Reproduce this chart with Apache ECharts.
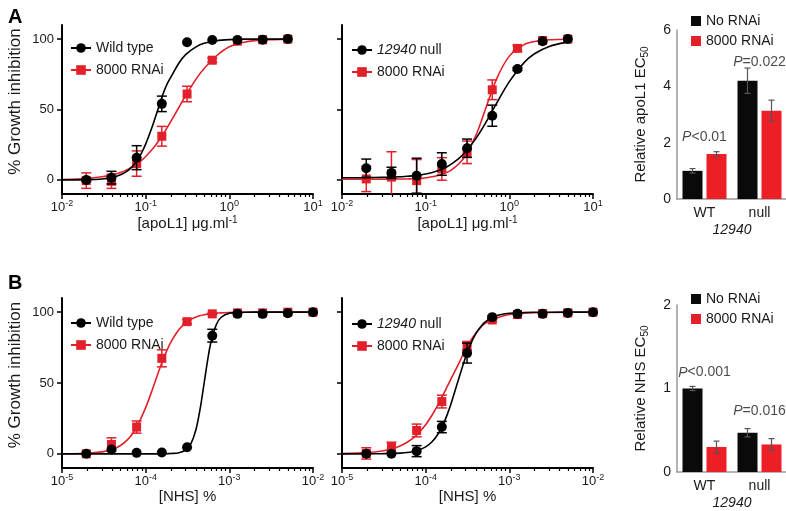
<!DOCTYPE html>
<html><head><meta charset="utf-8">
<script src="https://cdn.jsdelivr.net/npm/echarts@6/dist/echarts.min.js"></script>
<style>html,body{margin:0;padding:0;background:#fff}#c{width:786px;height:511px}</style>
</head><body><div id="c"></div>
<script>
// ---------------- DATA ----------------
const concA = [0.0195, 0.039, 0.078, 0.156, 0.3125, 0.625, 1.25, 2.5, 5];
const concB = [1.95e-5, 3.9e-5, 7.8e-5, 1.56e-4, 3.125e-4, 6.25e-4, 1.25e-3, 2.5e-3, 5e-3, 1e-2];

// Panel A, left (Wild type vs 8000 RNAi)
const aWtMean = [0, 1.6, 15.8, 54, 97.7, 99.3, 99.3, 99.6, 100];
const aWtErr = [1, 4.5, 8.5, 5.5, 0, 0, 0, 0, 0];
const aWtRnaiMean = [-0.5, -1, 11.6, 31, 61, 85, 98.5, 99.5, 100];
const aWtRnaiErr = [5.5, 5, 9, 7, 5.5, 1.5, 0, 0, 0];
// Panel A, middle (12940 null vs 8000 RNAi)
const aNullMean = [8.3, 5, 3, 11.3, 22.5, 45.6, 78.7, 98.5, 100];
const aNullErr = [6.5, 4, 12.4, 8, 6.5, 7.5, 1, 0, 0];
const aNullRnaiMean = [0.7, 2, -0.5, 7.8, 19.6, 64, 93.4, 99, 100];
const aNullRnaiErr = [9, 18, 15, 8, 8, 7, 2, 0, 0];

// fitted curves, panel A
const curveXA = [0.01, 0.02, 0.03, 0.04, 0.05, 0.06, 0.07, 0.08, 0.09, 0.1, 0.12, 0.14, 0.16, 0.18, 0.2, 0.25, 0.3, 0.4, 0.5, 0.7, 1, 1.5, 2, 3, 5];
const aWtFit = [0, 0.2, 0.7, 1.8, 3.6, 6.2, 9.8, 14.3, 19.6, 25.4, 37.9, 50, 60.5, 68, 73, 83, 89, 94.5, 97, 98.8, 99.6, 100, 100, 100, 100];
const aWtRnaiFit = [0.3, 1.0, 2.2, 3.6, 5.3, 7.3, 9.4, 11.7, 14.1, 16.6, 21.7, 26.9, 32, 36.9, 41.5, 51.6, 59.8, 71.6, 79.1, 88, 94.5, 97.8, 98.9, 99.6, 100];
const aNullFit = [1.5, 1.6, 1.8, 2.0, 2.2, 2.6, 2.9, 3.3, 3.7, 4.2, 5.3, 6.5, 7.9, 9.4, 11, 15.3, 20, 29.5, 38.7, 54.2, 69.8, 83.3, 89.6, 94.8, 98];
const aNullRnaiFit = [0.5, 0.5, 0.5, 0.6, 0.6, 0.7, 0.8, 0.9, 1.1, 1.5, 2.2, 3.1, 4.2, 5.4, 6.8, 11.5, 17.5, 31.8, 47.6, 71.4, 87.9, 96.1, 98.3, 99.5, 99.9];

// Panel B, left
const bWtMean = [0, 3, 0.7, 1, 4.7, 83.4, 98.8, 98.8, 99.3, 100];
const bWtErr = [0, 0, 0, 0, 0, 4.5, 0, 0, 0, 0];
const bWtRnaiMean = [0, 6.6, 18.9, 67.4, 93.3, 98.8, 99.5, 99.5, 100, 100];
const bWtRnaiErr = [0, 4.7, 4.3, 6, 1.5, 0.5, 0, 0, 0, 0];
// Panel B, middle
const bNullMean = [0, 0, 1.9, 18.9, 71.1, 96.5, 98.8, 98.8, 99.5, 100];
const bNullErr = [0, 0, 3.9, 4, 7, 1, 0, 0, 0, 0];
const bNullRnaiMean = [0.3, 4.7, 16.5, 36.9, 76.3, 94.5, 98.3, 99, 99.5, 100];
const bNullRnaiErr = [4, 3.5, 4.5, 4.5, 3, 1, 0, 0, 0, 0];

const curveXB = [1e-5, 2e-5, 3e-5, 4e-5, 5e-5, 6e-5, 7e-5, 8e-5, 1e-4, 1.2e-4, 1.4e-4, 1.6e-4, 1.8e-4, 2e-4, 2.5e-4, 3e-4, 3.5e-4, 4e-4, 4.5e-4, 5e-4, 5.5e-4, 6e-4, 7e-4, 8e-4, 1e-3, 1.5e-3, 2e-3, 5e-3, 1e-2];
const bWtFit = [0, 0, 0, 0, 0, 0, 0, 0, 0, 0, 0, 0, 0.1, 0.2, 0.8, 2.7, 7.6, 17.3, 32.4, 50, 66, 78.2, 91.3, 96.4, 99.2, 99.9, 100, 100, 100];
const bWtRnaiFit = [0.05, 0.4, 1.4, 3.1, 5.9, 9.7, 14.4, 20, 32.6, 45.2, 56.6, 65.9, 73.2, 78.9, 87.8, 92.5, 95.1, 96.6, 97.6, 98.2, 98.7, 99, 99.3, 99.5, 99.8, 99.9, 100, 100, 100];
const bNullFit = [0, 0, 0.1, 0.2, 0.5, 0.9, 1.5, 2.3, 4.9, 8.7, 13.8, 20.1, 27.3, 35, 53.5, 68.1, 78.3, 85, 89.4, 92.4, 94.4, 95.7, 97.4, 98.4, 99.2, 99.8, 99.9, 100, 100];
const bNullRnaiFit = [0.2, 0.9, 2.0, 3.6, 5.7, 8.2, 10.9, 14, 20.6, 27.6, 34.5, 41.1, 47.2, 52.7, 64, 74, 80.5, 85.5, 89, 91.5, 93, 94, 95.8, 97, 98.3, 99.3, 99.6, 99.9, 100];

// Bar panels (relative EC50)
const barCats = ['WT', 'null'];
const barANo = [1.0, 4.2];
const barANoErr = [0.08, 0.45];
const barARnai = [1.6, 3.13];
const barARnaiErr = [0.08, 0.38];
const barBNo = [1.0, 0.47];
const barBNoErr = [0.025, 0.05];
const barBRnai = [0.30, 0.33];
const barBRnaiErr = [0.07, 0.07];
const pTextA = ['<0.01', '=0.022'];
const pYA = [2.2, 4.86];
const pTextB = ['<0.001', '=0.016'];
const pYB = [1.19, 0.73];
const yTicksDose = [0, 50, 100];

// ---------------- STYLE ----------------
const FONT = '"Liberation Sans", Arial, Helvetica, sans-serif';
const RED = '#e3202a';
const BLK = '#000000';
const TXT = '#1a1a1a';
const BAR_RED = '#ec1f27';
const BAR_BLK = '#0a0a0a';

const grids = [
  {left: 62, top: 25, width: 251, height: 169},
  {left: 342, top: 25, width: 251, height: 169},
  {left: 677, top: 30, width: 110, height: 169},
  {left: 62, top: 298, width: 251, height: 170},
  {left: 342, top: 298, width: 251, height: 170},
  {left: 677, top: 305, width: 110, height: 167}
].map(g => Object.assign({containLabel: false, outerBoundsMode: 'none'}, g));

function minorVals(min, max) {
  const out = [];
  const e0 = Math.round(Math.log10(min)), e1 = Math.round(Math.log10(max));
  for (let e = e0; e < e1; e++) for (let m = 2; m <= 9; m++) out.push(m * Math.pow(10, e));
  return out;
}

const xAxes = [], yAxes = [], series = [];
function supLabel(v) {
  return '{b|10}{s|' + Math.round(Math.log10(v)) + '}';
}
function doseAxes(gi, min, max, name, showY) {
  const xi = xAxes.length;
  xAxes.push({
    type: 'log', logBase: 10, gridIndex: gi, min: min, max: max, position: 'bottom',
    axisLine: {show: true, onZero: false, lineStyle: {color: BLK, width: 2}},
    axisTick: {show: true, length: 5, inside: false, lineStyle: {color: BLK, width: 1.5}},
    axisLabel: {show: true, margin: 5, formatter: supLabel, color: TXT,
      rich: {b: {fontSize: 13, fontFamily: FONT, color: TXT, lineHeight: 15, verticalAlign: 'bottom'},
             s: {fontSize: 9, fontFamily: FONT, color: TXT, lineHeight: 15, verticalAlign: 'top'}}},
    splitLine: {show: false}, minorTick: {show: false},
    name: name, nameLocation: 'middle', nameGap: 18,
    nameTextStyle: {fontSize: 15, fontFamily: FONT, color: TXT,
      rich: {s: {fontSize: 10, fontFamily: FONT, color: TXT, verticalAlign: 'top', lineHeight: 17}}}
  });
  xAxes.push({
    type: 'log', logBase: 10, gridIndex: gi, min: min, max: max, position: 'bottom',
    axisLine: {show: false, onZero: false}, axisLabel: {show: false}, splitLine: {show: false},
    axisTick: {show: true, length: 3, inside: false, customValues: minorVals(min, max), lineStyle: {color: BLK, width: 1.2}}
  });
  const yi = yAxes.length;
  yAxes.push({
    type: 'value', gridIndex: gi, min: -10, max: 110, position: 'left',
    axisLine: {show: true, onZero: false, lineStyle: {color: BLK, width: 2}},
    axisTick: {show: true, length: 5, customValues: yTicksDose, lineStyle: {color: BLK, width: 1.5}},
    axisLabel: {show: showY, customValues: yTicksDose, margin: 8, fontSize: 13, fontFamily: FONT, color: TXT},
    splitLine: {show: false},
    name: showY ? '% Growth inhibition' : '', nameLocation: 'middle', nameGap: 38,
    nameTextStyle: {fontSize: 17, fontFamily: FONT, color: TXT, padding: [0, 0, 0, 16]}
  });
  return {xi: xi, yi: yi};
}

function errRender(color, capHalf, lw, offset) {
  return function (params, api) {
    const e = api.value(2);
    if (!e) return null;
    const x = api.value(0), y = api.value(1);
    const t = api.coord([x, y + e]);
    const b = api.coord([x, y - e]);
    const cx = t[0] + (offset || 0);
    const st = {stroke: color, lineWidth: lw};
    return {type: 'group', children: [
      {type: 'line', shape: {x1: cx, y1: t[1], x2: cx, y2: b[1]}, style: st},
      {type: 'line', shape: {x1: cx - capHalf, y1: t[1], x2: cx + capHalf, y2: t[1]}, style: st},
      {type: 'line', shape: {x1: cx - capHalf, y1: b[1], x2: cx + capHalf, y2: b[1]}, style: st}
    ]};
  };
}

function zip(a, b) { return a.map((v, i) => [v, b[i]]); }
function zip3(a, b, c) { return a.map((v, i) => [v, b[i], c[i]]); }

function dosePanel(ax, curveX, blkFit, redFit, conc, blkMean, blkErr, redMean, redErr, blkName) {
  const common = {xAxisIndex: ax.xi, yAxisIndex: ax.yi, animation: false, silent: true};
  series.push(Object.assign({type: 'line', name: '8000 RNAi', data: zip(curveX, redFit), symbol: 'rect', symbolSize: 9,
    showSymbol: false, smooth: 0.3, lineStyle: {color: RED, width: 1.6}, itemStyle: {color: RED}, z: 2}, common));
  series.push(Object.assign({type: 'custom', name: 'redErr', data: zip3(conc, redMean, redErr), clip: true,
    encode: {x: 0, y: 1}, renderItem: errRender(RED, 5, 1.5), z: 3}, common));
  series.push(Object.assign({type: 'scatter', name: 'redPts', data: zip(conc, redMean), symbol: 'rect', symbolSize: 9,
    itemStyle: {color: RED, opacity: 1}, z: 4}, common));
  series.push(Object.assign({type: 'line', name: blkName, data: zip(curveX, blkFit), symbol: 'circle', symbolSize: 10,
    showSymbol: false, smooth: 0.3, lineStyle: {color: BLK, width: 1.6}, itemStyle: {color: BLK}, z: 5}, common));
  series.push(Object.assign({type: 'custom', name: 'blkErr', data: zip3(conc, blkMean, blkErr), clip: true,
    encode: {x: 0, y: 1}, renderItem: errRender(BLK, 5, 1.5), z: 6}, common));
  series.push(Object.assign({type: 'scatter', name: 'blkPts', data: zip(conc, blkMean), symbol: 'circle', symbolSize: 10,
    itemStyle: {color: BLK, opacity: 1}, z: 7}, common));
}

function barPanel(gi, ymax, yint, yName, noVals, noErr, rnVals, rnErr, pText, pY) {
  const xi = xAxes.length;
  xAxes.push({
    type: 'category', gridIndex: gi, data: barCats,
    axisLine: {show: true, lineStyle: {color: '#9a9a9a', width: 1.5}},
    axisTick: {show: false},
    axisLabel: {fontSize: 14, fontFamily: FONT, color: TXT, margin: 7},
    name: '12940', nameLocation: 'middle', nameGap: 24,
    nameTextStyle: {fontSize: 14, fontFamily: FONT, color: TXT, fontStyle: 'italic'}
  });
  const yi = yAxes.length;
  yAxes.push({
    type: 'value', gridIndex: gi, min: 0, max: ymax, interval: yint,
    axisLine: {show: true, lineStyle: {color: '#9a9a9a', width: 1.5}},
    axisTick: {show: false},
    axisLabel: {fontSize: 14, fontFamily: FONT, color: TXT, margin: 6},
    splitLine: {show: false},
    name: '{a|' + yName + '}{b|50}', nameLocation: 'middle', nameGap: 27,
    nameTextStyle: {rich: {
      a: {fontSize: 15, fontFamily: FONT, color: TXT, lineHeight: 18},
      b: {fontSize: 10, fontFamily: FONT, color: TXT, verticalAlign: 'bottom', lineHeight: 18}}}
  });
  const common = {xAxisIndex: xi, yAxisIndex: yi, animation: false, silent: true};
  series.push(Object.assign({type: 'bar', name: 'No RNAi', data: noVals, barWidth: 20, barGap: '20%',
    itemStyle: {color: BAR_BLK}, z: 2}, common));
  series.push(Object.assign({type: 'bar', name: '8000 RNAi', data: rnVals, barWidth: 20, barGap: '20%',
    itemStyle: {color: BAR_RED}, z: 2}, common));
  series.push(Object.assign({type: 'custom', name: 'barErr1', data: noVals.map((v, i) => [i, v, noErr[i]]),
    encode: {x: 0, y: 1}, renderItem: errRender('#555555', 3, 1.2, -12), z: 4}, common));
  series.push(Object.assign({type: 'custom', name: 'barErr2', data: rnVals.map((v, i) => [i, v, rnErr[i]]),
    encode: {x: 0, y: 1}, renderItem: errRender('#555555', 3, 1.2, 12), z: 4}, common));
  series.push(Object.assign({type: 'scatter', name: 'pLabels', data: pY.map((v, i) => [i, v]), symbolSize: 0,
    label: {show: true, position: 'inside', fontSize: 14, fontFamily: FONT, color: TXT,
      formatter: p => '{i|P}' + pText[p.dataIndex],
      rich: {i: {fontStyle: 'italic', fontSize: 14, fontFamily: FONT, color: TXT}}}, z: 5}, common));
}

// Build panels
const axA1 = doseAxes(0, 0.01, 10, '[apoL1] μg.ml{s|-1}', true);
dosePanel(axA1, curveXA, aWtFit, aWtRnaiFit, concA, aWtMean, aWtErr, aWtRnaiMean, aWtRnaiErr, 'Wild type');
const axA2 = doseAxes(1, 0.01, 10, '[apoL1] μg.ml{s|-1}', false);
dosePanel(axA2, curveXA, aNullFit, aNullRnaiFit, concA, aNullMean, aNullErr, aNullRnaiMean, aNullRnaiErr, '12940 null');
barPanel(2, 6, 2, 'Relative apoL1 EC', barANo, barANoErr, barARnai, barARnaiErr, pTextA, pYA);
const axB1 = doseAxes(3, 1e-5, 1e-2, '[NHS] %', true);
dosePanel(axB1, curveXB, bWtFit, bWtRnaiFit, concB, bWtMean, bWtErr, bWtRnaiMean, bWtRnaiErr, 'Wild type');
const axB2 = doseAxes(4, 1e-5, 1e-2, '[NHS] %', false);
dosePanel(axB2, curveXB, bNullFit, bNullRnaiFit, concB, bNullMean, bNullErr, bNullRnaiMean, bNullRnaiErr, '12940 null');
barPanel(5, 2, 1, 'Relative NHS EC', barBNo, barBNoErr, barBRnai, barBRnaiErr, pTextB, pYB);

function doseLegend(left, top, names) {
  return {orient: 'vertical', left: left, top: top, itemWidth: 20, itemHeight: 12, itemGap: 6,
    selectedMode: false, data: names,
    formatter: n => n === '12940 null' ? '{i|12940} null' : n,
    textStyle: {fontSize: 14, fontFamily: FONT, color: TXT, lineHeight: 16,
      rich: {i: {fontStyle: 'italic', fontSize: 14, fontFamily: FONT, color: TXT, lineHeight: 16}}}};
}
function barLegend(left, top) {
  return {orient: 'vertical', left: left, top: top, itemWidth: 10, itemHeight: 10, itemGap: 4,
    selectedMode: false, data: [{name: 'No RNAi', icon: 'rect'}, {name: '8000 RNAi', icon: 'rect'}],
    textStyle: {fontSize: 14, fontFamily: FONT, color: TXT, lineHeight: 16}};
}

const option = {
  animation: false,
  backgroundColor: '#ffffff',
  textStyle: {fontFamily: FONT},
  title: [
    {text: 'A', left: 3, top: 2, textStyle: {fontSize: 20, fontWeight: 'bold', fontFamily: FONT, color: BLK}},
    {text: 'B', left: 3, top: 268, textStyle: {fontSize: 20, fontWeight: 'bold', fontFamily: FONT, color: BLK}}
  ],
  grid: grids,
  xAxis: xAxes,
  yAxis: yAxes,
  legend: [
    doseLegend(65, 35, ['Wild type', '8000 RNAi']),
    doseLegend(346, 37, ['12940 null', '8000 RNAi']),
    barLegend(686, 8),
    doseLegend(65, 310, ['Wild type', '8000 RNAi']),
    doseLegend(346, 311, ['12940 null', '8000 RNAi']),
    barLegend(686, 286)
  ],
  series: series
};
const chart = echarts.init(document.getElementById('c'), null, {renderer: 'canvas'});
chart.setOption(option);
</script>
</body></html>
